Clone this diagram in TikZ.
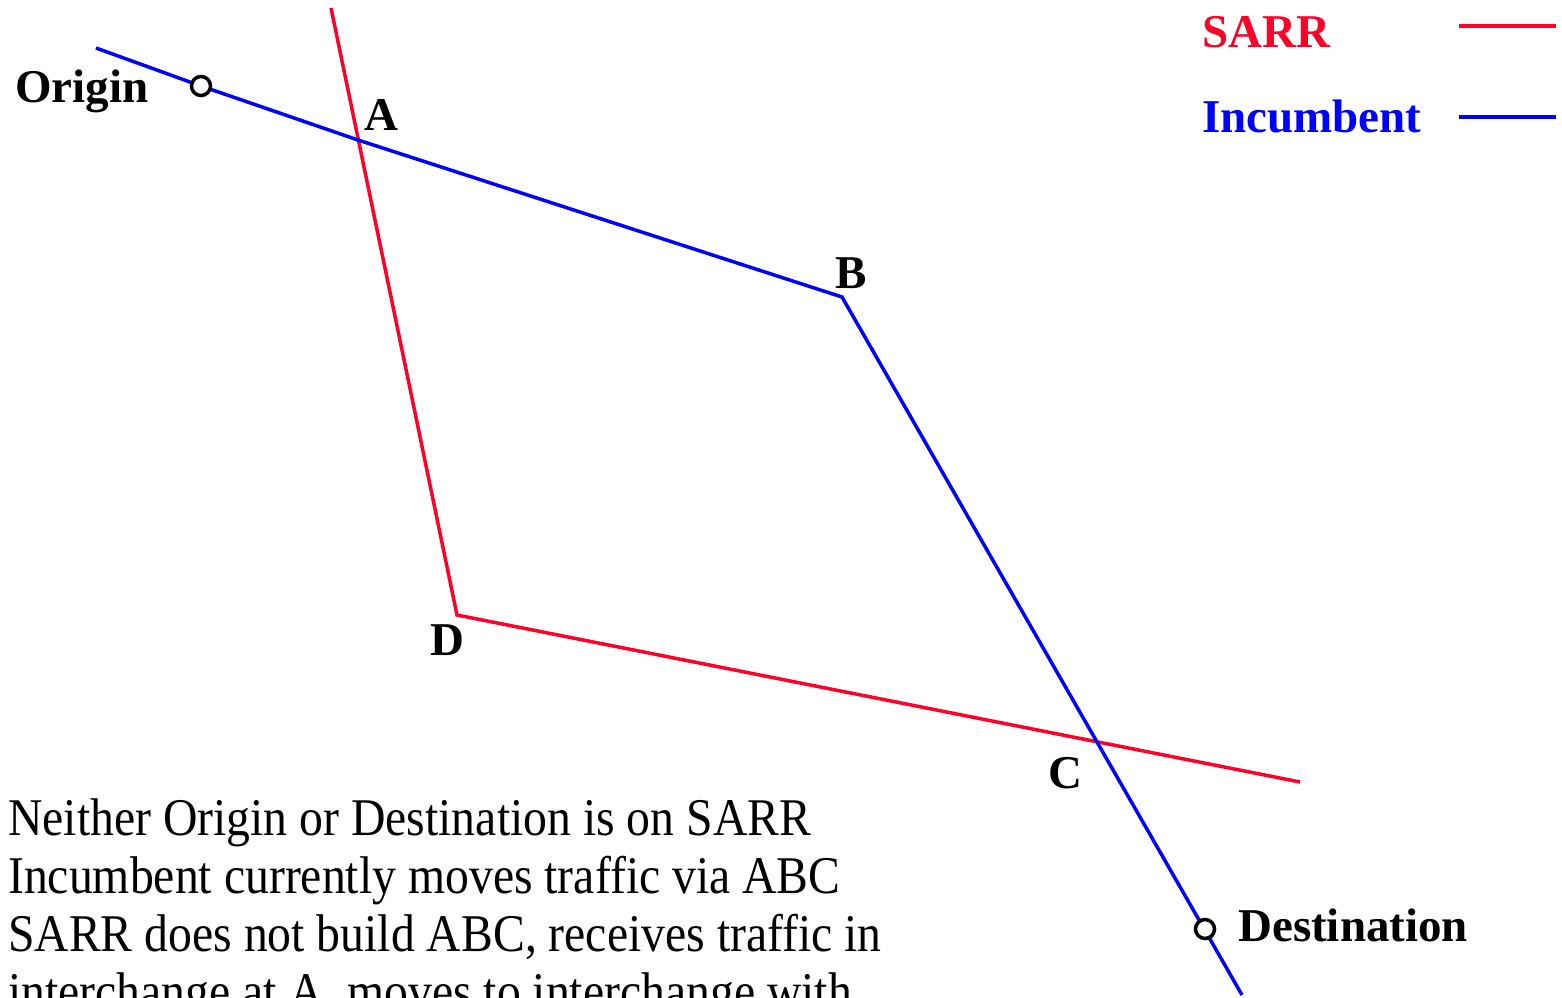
\documentclass[tikz,border=0pt]{standalone}
\usepackage{fontspec}
\setmainfont{Liberation Serif}
\newfontfamily\condfont[FakeStretch=0.9]{Liberation Serif}
\definecolor{sarrred}{RGB}{255,0,40}
\definecolor{incblue}{RGB}{0,0,255}
\begin{document}
\begin{tikzpicture}[x=1pt,y=-1pt,
  sarr/.style={draw=sarrred,line width=3.5pt},
  inc/.style={draw=incblue,line width=3.5pt},
  lbl/.style={font=\fontsize{47}{50}\selectfont\bfseries,inner sep=0pt,anchor=base west},
  stop/.style={circle,draw=black,fill=white,line width=3.5pt,minimum size=19pt,inner sep=0pt}]
\useasboundingbox (0,0) rectangle (1562,997);
\clip (0,0) rectangle (1562,997);
% coordinates
\coordinate (bs) at (96,48);
\coordinate (O) at (201,86);
\coordinate (A) at (358,140);
\coordinate (B) at (842,297);
\coordinate (C) at (1099,743);
\coordinate (be) at (1242,995);
\coordinate (rs) at (331,8);
\coordinate (D) at (457,615);
\coordinate (re) at (1300,782);
% lines
\draw[sarr] (rs) -- (D) -- (re);
\draw[inc] (bs) -- (O) -- (A) -- (B) -- (be);
% stops
\node[stop] (orig) at (O) {};
\node[stop] (dest) at (1205,929) {};
% labels
\node[lbl] (lorig) at (15,102) {Origin};
\node[lbl] (lA) at (364,130) {A};
\node[lbl] (lB) at (835,288) {B};
\node[lbl] (lD) at (430,655) {D};
\node[lbl] (lC) at (1048,788) {C};
\node[lbl] (ldest) at (1238,941) {Destination};
% legend
\node[lbl,text=sarrred] (lsarr) at (1202,47) {SARR};
\node[lbl,text=incblue] (linc) at (1202,132) {Incumbent};
\coordinate (ls1) at (1459,26);
\coordinate (ls2) at (1556,26);
\coordinate (li1) at (1459,117);
\coordinate (li2) at (1556,117);
\draw[sarr] (ls1) -- (ls2);
\draw[inc] (li1) -- (li2);
% text
\node[inner sep=0pt,anchor=base west,align=left,font=\condfont\fontsize{53}{58}\selectfont] (txt) at (8,1009)
 {Neither Origin or Destination is on SARR\\
  Incumbent currently moves traffic via ABC\\
  SARR does not build ABC, receives traffic in\\
  interchange at A, moves to interchange with};
\end{tikzpicture}
\end{document}
